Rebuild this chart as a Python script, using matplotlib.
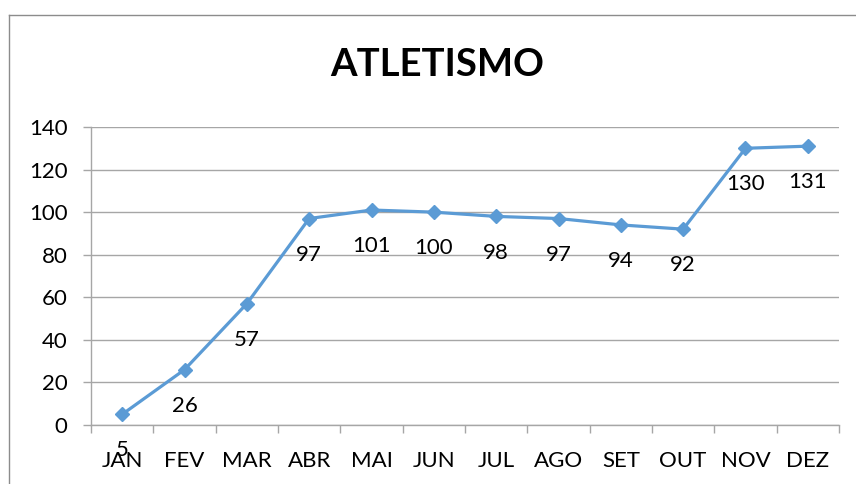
import matplotlib
matplotlib.use("Agg")
import matplotlib.pyplot as plt
from matplotlib.lines import Line2D
from matplotlib.ticker import FixedLocator, NullFormatter

plt.rcParams['font.family'] = ['Lato', 'DejaVu Sans']

months = ["JAN", "FEV", "MAR", "ABR", "MAI", "JUN", "JUL", "AGO", "SET", "OUT", "NOV", "DEZ"]
values = [5, 26, 57, 97, 101, 100, 98, 97, 94, 92, 130, 131]
y_ticks = [0, 20, 40, 60, 80, 100, 120, 140]
title = "ATLETISMO"

line_color = "#5B9BD5"
grid_color = "#A6A6A6"
frame_color = "#8C8C8C"

W, H = 856, 484
fig = plt.figure(figsize=(W / 100, H / 100), dpi=100)
ax = fig.add_axes([91 / W, 1 - 425 / H, (839 - 91) / W, (425 - 127) / H])

x = list(range(len(months)))
ax.plot(x, values, color=line_color, lw=2.3, marker="D", markersize=7.5,
        markeredgecolor=line_color, markerfacecolor=line_color, zorder=3, clip_on=False)

for xi, v in zip(x, values):
    ax.annotate(str(v), (xi, v), xytext=(0, -26), textcoords="offset points",
                ha="center", va="center", fontsize=16, color="black", zorder=4)

ax.set_xlim(-0.5, len(months) - 0.5)
ax.set_ylim(0, 140)
ax.set_yticks(y_ticks)
ax.set_xticks(x)
ax.set_xticklabels(months)
ax.xaxis.set_minor_locator(FixedLocator([i - 0.5 for i in range(len(months) + 1)]))
ax.xaxis.set_minor_formatter(NullFormatter())

ax.tick_params(axis="x", which="major", length=0, pad=19, labelsize=16)
ax.tick_params(axis="x", which="minor", length=6, width=1, color=grid_color)
ax.tick_params(axis="y", which="major", length=6, width=1, color=grid_color,
               pad=11, labelsize=16)

ax.yaxis.grid(True, color=grid_color, lw=1)
ax.set_axisbelow(True)
for side in ("top", "right"):
    ax.spines[side].set_visible(False)
for side in ("left", "bottom"):
    ax.spines[side].set_color(grid_color)
    ax.spines[side].set_linewidth(1)

# outer chart frame
fig.add_artist(Line2D([8.5 / W, 8.5 / W], [0, 1 - 14.5 / H], transform=fig.transFigure,
                      color=frame_color, lw=1))
fig.add_artist(Line2D([8.5 / W, 1], [1 - 14.5 / H, 1 - 14.5 / H], transform=fig.transFigure,
                      color=frame_color, lw=1))

fig.text(437 / W, 1 - 65 / H, title, ha="center", va="center",
         fontsize=27.5, fontweight="bold", color="black")

fig.savefig("out.png", dpi=100)
